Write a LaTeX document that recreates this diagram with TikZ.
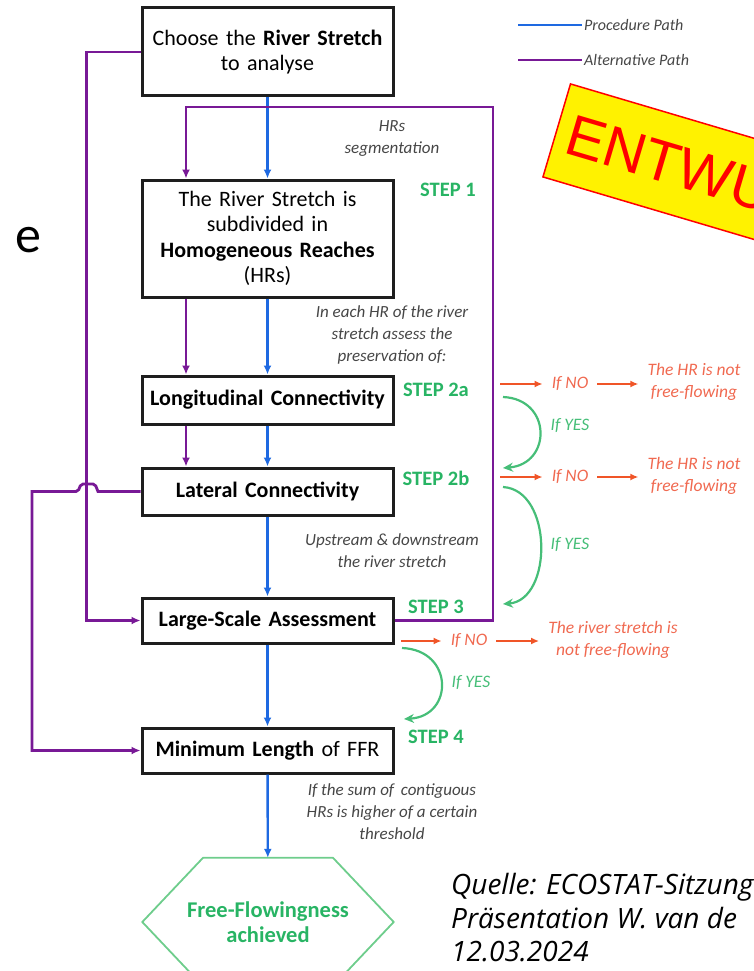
\documentclass[tikz,border=0pt]{standalone}
\usepackage{fontspec}
\setmainfont{Carlito}
\newfontfamily\stampfont{Liberation Sans}
\newfontfamily\srcfont{Open Sans}
\usetikzlibrary{arrows.meta,positioning,calc}

\definecolor{procblue}{RGB}{30,105,225}
\definecolor{altpurple}{RGB}{120,25,150}
\definecolor{stepgreen}{RGB}{40,180,100}
\definecolor{yesgreen}{RGB}{70,190,120}
\definecolor{hexgreen}{RGB}{110,205,140}
\definecolor{noorange}{RGB}{240,85,40}
\definecolor{notext}{RGB}{240,105,80}
\definecolor{notegray}{RGB}{70,70,70}
\definecolor{boxline}{RGB}{30,30,30}

\begin{document}
\begin{tikzpicture}[
  x=1pt, y=1pt,
  font=\fontsize{22}{25.5}\selectfont,
  box/.style={draw=boxline, line width=3pt, align=center,
              text width=245pt, minimum width=251pt, inner sep=0pt},
  note/.style={font=\fontsize{17}{22}\selectfont\itshape, text=notegray, align=center},
  steplbl/.style={font=\fontsize{20.5}{24}\selectfont\bfseries, text=stepgreen},
  notxt/.style={font=\fontsize{17.5}{22}\selectfont\itshape, text=notext, align=center, inner sep=9pt},
  yestxt/.style={font=\fontsize{17.5}{22}\selectfont\itshape, text=yesgreen},
  proc/.style={-{Latex[length=9pt,width=8pt]}, line width=2.4pt, procblue},
  alt/.style={line width=2.8pt, altpurple},
  altarr/.style={alt, -{Latex[length=9pt,width=8pt]}},
  noarr/.style={-{Latex[length=8pt,width=7pt]}, line width=2.4pt, noorange},
  yesarr/.style={-{Stealth[length=10pt,width=9pt]}, line width=2.2pt, yesgreen},
  stamp/.style={fill=yellow, draw=red, line width=1.5pt, text=red,
                font=\stampfont\fontsize{58}{64}\selectfont,
                minimum height=97pt, inner xsep=12pt}
]
\path[use as bounding box] (0,0) rectangle (754,-971);
\clip (0,0) rectangle (754,-971);

% boxes of the procedure
\node[box, minimum height=88pt] (choose) at (267.5,-52)
  {Choose the \textbf{River Stretch}\\to analyse};
\node[box, minimum height=117pt] (hrs) at (267.5,-238.5)
  {The River Stretch is\\subdivided in\\\textbf{Homogeneous Reaches}\\(HRs)};
\node[box, minimum height=48pt] (lon) at (267.5,-400) {\textbf{Longitudinal Connectivity}};
\node[box, minimum height=47pt] (lat) at (267.5,-491.5) {\textbf{Lateral Connectivity}};
\node[box, minimum height=45pt] (lsa) at (267.5,-620.5) {\textbf{Large-Scale Assessment}};
\node[box, minimum height=45pt] (minl) at (267.5,-750.5) {\textbf{Minimum Length} of FFR};
\node[minimum width=251pt, minimum height=128pt, align=center, text=stepgreen,
      font=\fontsize{22.5}{25}\selectfont\bfseries] (goal) at (268,-922)
  {Free-Flowingness\\achieved};
\draw[hexgreen, line width=1.8pt] ([xshift=-65pt]goal.north) -- ([xshift=65pt]goal.north)
  -- (goal.east) -- ([xshift=65pt]goal.south) -- ([xshift=-65pt]goal.south)
  -- (goal.west) -- cycle;

% notes along the main path
\node[note] (segnote) at (392,-139) {HRs\\segmentation};
\node[note] (assessnote) at (392,-335) {In each HR of the river\\stretch assess the\\preservation of:};
\node[note] (upnote) at (392,-551) {Upstream \& downstream\\the river stretch};
\node[note] (sumnote) at (392,-812) {If the sum of\, contiguous\\HRs is higher of a certain\\threshold};

\node[steplbl] (s1) at (448,-190) {STEP 1};
\node[steplbl] (s2a) at (436,-390) {STEP 2a};
\node[steplbl] (s2b) at (436,-478) {STEP 2b};
\node[steplbl] (s3) at (436,-607) {STEP 3};
\node[steplbl] (s4) at (436,-737) {STEP 4};

% procedure path
\draw[proc] (choose) -- (hrs);
\draw[proc] (hrs) -- (lon);
\draw[proc] (lon) -- (lat);
\draw[proc] (lat) -- (lsa);
\draw[proc] (lsa) -- (minl);
\draw[proc] (minl) -- (goal);

% alternative path
\draw[altarr] (lsa.east) -| (493,-107) -| ([xshift=-81.5pt]hrs.north);
\draw[altarr] ([xshift=-81.5pt]hrs.south) -- ([xshift=-81.5pt]lon.north);
\draw[altarr] ([xshift=-81.5pt]lon.south) -- ([xshift=-81.5pt]lat.north);
\draw[altarr] (choose.west) -- ++(-54,0) |- (lsa.west);
\coordinate (hopR) at (98,-491.5);
\coordinate (hopL) at (78,-491.5);
\draw[altarr] (lat.west) -- (hopR)
  [rounded corners=2pt] -- (95,-484) -- (81,-484) -- (hopL)
  [sharp corners] -- (32,-491.5) |- (minl.west);

% decisions
\coordinate (no2a) at (500,-384);
\node[notxt] (ifno2a) at (570,-384) {If NO};
\node[notxt] (res2a) at (694,-382) {The HR is not\\free-flowing};
\draw[noarr] (no2a) -- (ifno2a);
\draw[noarr] (ifno2a) -- (ifno2a -| res2a.west);

\coordinate (no2b) at (500,-477);
\node[notxt] (ifno2b) at (570,-477) {If NO};
\node[notxt] (res2b) at (694,-476) {The HR is not\\free-flowing};
\draw[noarr] (no2b) -- (ifno2b);
\draw[noarr] (ifno2b) -- (ifno2b -| res2b.west);

\coordinate (no3) at (401,-641);
\node[notxt] (ifno3) at (469,-641) {If NO};
\node[notxt] (res3) at (613,-640) {The river stretch is\\not free-flowing};
\draw[noarr] (no3) -- (ifno3);
\draw[noarr] (ifno3) -- (ifno3 -| res3.west);

\coordinate (yes2aS) at (503,-397);
\coordinate (yes2aE) at (503,-468);
\draw[yesarr] (yes2aS) .. controls (552,-399) and (552,-464) .. (yes2aE);
\node[yestxt] (ifyes2a) at (570,-426) {If YES};
\coordinate (yes2bS) at (503,-487);
\coordinate (yes2bE) at (503,-604);
\draw[yesarr] (yes2bS) .. controls (553,-490) and (553,-600) .. (yes2bE);
\node[yestxt] (ifyes2b) at (570,-545) {If YES};
\coordinate (yes3S) at (402,-648);
\coordinate (yes3E) at (404,-719);
\draw[yesarr] (yes3S) .. controls (454,-650) and (454,-716) .. (yes3E);
\node[yestxt] (ifyes3) at (471,-683) {If YES};

% legend
\node[note, font=\fontsize{16}{20}\selectfont\itshape, anchor=west, inner sep=2pt] (proclbl) at (582,-25) {Procedure Path};
\node[note, font=\fontsize{16}{20}\selectfont\itshape, anchor=west, inner sep=2pt] (altlbl) at (582,-60) {Alternative Path};
\coordinate (procleg) at (518,-25);
\coordinate (altleg) at (518,-60);
\draw[procblue, line width=2.8pt] (procleg) -- (proclbl.west);
\draw[alt] (altleg) -- (altlbl.west);

% slide leftovers
\node[font=\fontsize{52}{60}\selectfont] (edge) at (28,-240) {e};
\node[anchor=west, align=left, inner sep=0pt, font=\srcfont\fontsize{28}{33.5}\selectfont\itshape] (src) at (451,-918)
  {Quelle: ECOSTAT-Sitzung\\Präsentation W. van de\\12.03.2024};
\node[stamp, rotate=-16.5, anchor=north west] (draft) at (570,-83) {ENTWURF};
\end{tikzpicture}
\end{document}
